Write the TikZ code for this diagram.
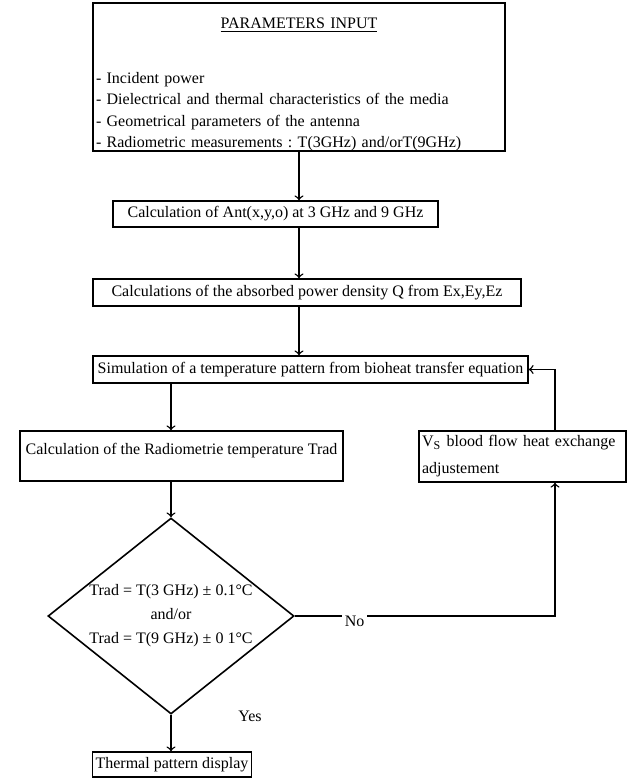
\documentclass[tikz,border=0pt]{standalone}
\usepackage{fontspec}
\setmainfont{Liberation Serif}
\usepackage{tikz}
\usetikzlibrary{positioning, shapes.geometric}
\frenchspacing

\begin{document}
\begin{tikzpicture}[every node/.style={anchor=center, font=\fontsize{8}{10.75}\selectfont},
  box/.style={draw, line width=0.8pt, inner xsep=1.5pt, inner ysep=0pt},
  test/.style={draw, diamond, line width=0.8pt, aspect=1.25, inner sep=0pt, minimum width=123pt, minimum height=98pt, align=center, font=\fontsize{8}{12}\selectfont},
  flow/.style={->, line width=0.7pt},
  answer/.style={fill=white, inner sep=1.2pt}]

\useasboundingbox (0,0) rectangle (314pt,-390pt);

\node[box, text width=203pt, minimum height=73pt, align=left] (params) at (149.5pt,-38.5pt) {\makebox[\linewidth]{\rule{0pt}{12.5pt}\underline{PARAMETERS INPUT}}\\[16.75pt] - Incident power\\ - Dielectrical and thermal characteristics of the media\\ - Geometrical parameters of the antenna\\ - Radiometric measurements : T(3GHz) and/orT(9GHz)};
\node[box, minimum width=162.5pt, minimum height=13pt] (ant) at (137.75pt,-107pt) {Calculation of Ant(x,y,o) at 3 GHz and 9 GHz};
\node[box, minimum width=214pt, minimum height=13.5pt] (absorb) at (153.5pt,-146.25pt) {Calculations of the absorbed power density Q from Ex,Ey,Ez};
\node[box, minimum width=217.5pt, minimum height=13.5pt] (sim) at (155.25pt,-184.75pt) {Simulation of a temperature pattern from bioheat transfer equation};
\node[box, minimum width=161.5pt, text height=11.5pt, text depth=13.5pt] (radtemp) at (90.75pt,-228pt) {Calculation of the Radiometrie temperature Trad};
\node[box, text width=100.5pt, minimum height=25.5pt, align=left, font=\fontsize{8}{13.5}\selectfont] (vs) at (261.25pt,-228.25pt) {V\textsubscript{S} blood flow heat exchange\\ adjustement};
\node[test] (check) at (85.5pt,-308pt) {Trad = T(3 GHz) ± 0.1°C\\ and/or\\ Trad = T(9 GHz) ± 0 1°C};
\node[box, minimum width=79pt, minimum height=12.5pt] (display) at (86pt,-382.25pt) {Thermal pattern display};

% main column
\foreach \a/\b in {params/ant, ant/absorb, absorb/sim}
  \draw[flow] (\a.south -| params.south) -- (\b.north -| params.south);
\draw[flow] (sim.south -| check.north) -- (radtemp.north -| check.north);
\draw[flow] (radtemp.south -| check.north) -- (check.north);
\draw[flow] (check.south) -- node[pos=0.05, anchor=west, xshift=30pt]{Yes} (check.south |- display.north);

% loop back
\draw[flow] (check.east) -| node[answer, pos=0.115, yshift=-2.5pt]{No} ([xshift=16.25pt]vs.south);
\draw[flow] ([xshift=16.25pt]vs.north) |- (sim.east);
\end{tikzpicture}
\end{document}
